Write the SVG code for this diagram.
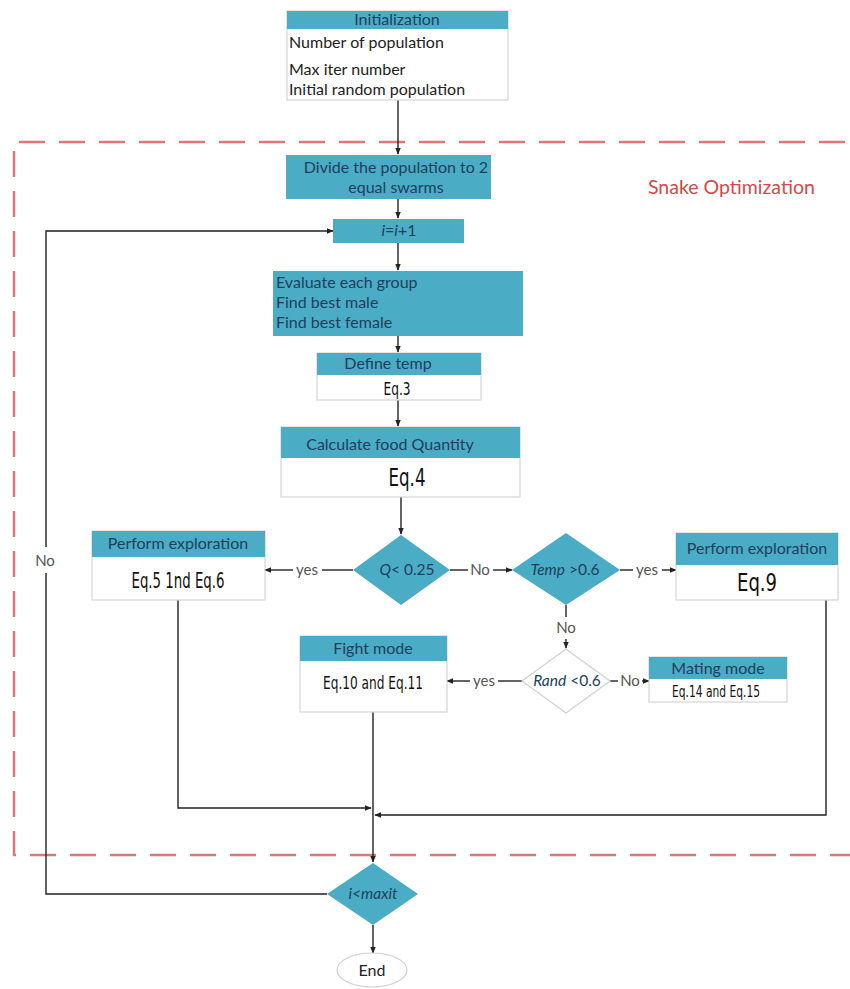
<svg xmlns="http://www.w3.org/2000/svg" width="850" height="989" viewBox="0 0 850 989">
<defs>
<marker id="ah" viewBox="0 0 10 10" refX="9" refY="5" markerWidth="5" markerHeight="5" orient="auto-start-reverse"><path d="M0,1 L10,5 L0,9 z" fill="#222"/></marker>
<style>
.hdr{fill:#4bacc6;}
.box{fill:#fff;stroke:#d4d4d4;stroke-width:1.2;}
.ht{font-family:Lato,"Open Sans",sans-serif;font-size:16px;fill:#1d3f5e;text-anchor:middle;}
.lt{font-family:Lato,"Open Sans",sans-serif;font-size:16px;fill:#1d3f5e;}
.bt{font-family:Lato,"Open Sans",sans-serif;font-size:16px;fill:#222;}
.eq{font-family:"DejaVu Sans",sans-serif;fill:#111;text-anchor:middle;}
.dt{font-family:Lato,"Open Sans",sans-serif;font-size:15.5px;fill:#1d3f5e;text-anchor:middle;}
.lb{font-family:Lato,"Open Sans",sans-serif;font-size:15px;fill:#555;text-anchor:middle;}
.c{fill:none;stroke:#222;stroke-width:1.4;}
.ca{fill:none;stroke:#222;stroke-width:1.4;marker-end:url(#ah);}
</style>
</defs>
<rect width="850" height="989" fill="#fff"/>

<g id="region">
<path d="M845,142 H14 V855 H850" fill="none" stroke="#e07777" stroke-width="2.5" stroke-dasharray="26 14"/>
<text x="648" y="194" font-family="Lato,'Open Sans',sans-serif" font-size="19.5" fill="#d24a4a">Snake Optimization</text>
</g>

<g id="connectors">
<line class="ca" x1="398" y1="100" x2="398" y2="154"/>
<line class="ca" x1="398" y1="199" x2="398" y2="218"/>
<line class="ca" x1="398" y1="243" x2="398" y2="270"/>
<line class="ca" x1="398" y1="336" x2="398" y2="352"/>
<line class="ca" x1="398" y1="400" x2="398" y2="426"/>
<line class="ca" x1="401" y1="497" x2="401" y2="534"/>
<line class="c" x1="353" y1="570" x2="322" y2="570"/>
<line class="ca" x1="293" y1="570" x2="265" y2="570"/>
<text class="lb" x="307" y="575">yes</text>
<line class="c" x1="450" y1="570" x2="468" y2="570"/>
<line class="ca" x1="493" y1="570" x2="512" y2="570"/>
<text class="lb" x="480" y="575">No</text>
<line class="c" x1="620" y1="570" x2="633" y2="570"/>
<line class="ca" x1="662" y1="570" x2="676" y2="570"/>
<text class="lb" x="647" y="575">yes</text>
<line class="c" x1="566" y1="605" x2="566" y2="617"/>
<text class="lb" x="566" y="633">No</text>
<line class="ca" x1="566" y1="639" x2="566" y2="648"/>
<line class="c" x1="522" y1="681" x2="498" y2="681"/>
<line class="ca" x1="470" y1="681" x2="447" y2="681"/>
<text class="lb" x="484" y="686">yes</text>
<line class="c" x1="610" y1="681" x2="618" y2="681"/>
<line class="ca" x1="642" y1="681" x2="649" y2="681"/>
<text class="lb" x="630" y="686">No</text>
<line class="ca" x1="373" y1="712" x2="373" y2="862"/>
<polyline class="ca" points="178,600 178,808 371,808"/>
<polyline class="ca" points="826,600 826,815 375,815"/>
<line class="ca" x1="373" y1="925" x2="373" y2="953"/>
<polyline class="c" points="327,894 46,894 46,573"/>
<polyline class="ca" points="46,547 46,231 333,231"/>
<text class="lb" x="45" y="566">No</text>
</g>

<g id="init">
<rect class="box" x="287" y="11" width="221" height="89"/>
<rect class="hdr" x="287" y="11" width="221" height="18"/>
<text class="ht" x="397" y="25">Initialization</text>
<text class="bt" x="289" y="48">Number of population</text>
<text class="bt" x="289" y="75">Max iter number</text>
<text class="bt" x="289" y="95">Initial random population</text>
</g>

<g id="divide">
<rect class="hdr" x="286" y="155" width="205" height="44"/>
<text class="ht" x="396" y="173">Divide the population to 2</text>
<text class="ht" x="396" y="193">equal swarms</text>
</g>

<g id="incr">
<rect class="hdr" x="333" y="219" width="131" height="24"/>
<text class="ht" x="399" y="236"><tspan font-style="italic">i</tspan>=<tspan font-style="italic">i</tspan>+1</text>
</g>

<g id="evaluate">
<rect class="hdr" x="273" y="271" width="250" height="65"/>
<text class="lt" x="276" y="288">Evaluate each group</text>
<text class="lt" x="276" y="308">Find best male</text>
<text class="lt" x="276" y="328">Find best female</text>
</g>

<g id="temp">
<rect class="box" x="317" y="353" width="164" height="47"/>
<rect class="hdr" x="317" y="353" width="164" height="22"/>
<text class="ht" x="388" y="369">Define temp</text>
<text class="eq" x="397" y="395" font-size="17" textLength="27" lengthAdjust="spacingAndGlyphs">Eq.3</text>
</g>

<g id="food">
<rect class="box" x="281" y="427" width="239" height="70"/>
<rect class="hdr" x="281" y="427" width="239" height="31"/>
<text class="ht" x="390" y="450">Calculate food Quantity</text>
<text class="eq" x="407" y="486" font-size="24" textLength="37" lengthAdjust="spacingAndGlyphs">Eq.4</text>
</g>

<g id="q">
<polygon points="401,535 450,570 401,605 353,570" fill="#4bacc6"/>
<text class="dt" x="407" y="575"><tspan font-style="italic">Q</tspan>&lt; 0.25</text>
</g>

<g id="explore1">
<rect class="box" x="92" y="531" width="173" height="69"/>
<rect class="hdr" x="92" y="531" width="173" height="26"/>
<text class="ht" x="178" y="549">Perform exploration</text>
<text class="eq" x="178" y="588" font-size="22" textLength="93" lengthAdjust="spacingAndGlyphs">Eq.5 1nd Eq.6</text>
</g>

<g id="tempd">
<polygon points="566,533 620,570 566,605 512,570" fill="#4bacc6"/>
<text class="dt" x="565" y="575"><tspan font-style="italic">Temp</tspan> &gt;0.6</text>
</g>

<g id="explore2">
<rect class="box" x="676" y="533" width="162" height="67"/>
<rect class="hdr" x="676" y="533" width="162" height="32"/>
<text class="ht" x="757" y="554">Perform exploration</text>
<text class="eq" x="757" y="591" font-size="24" textLength="40" lengthAdjust="spacingAndGlyphs">Eq.9</text>
</g>

<g id="rand">
<polygon points="566,649 610,681 566,713 522,681" fill="#fff" stroke="#d0d0d0" stroke-width="1.2"/>
<text class="dt" x="567" y="686" font-size="15"><tspan font-style="italic">Rand</tspan> &lt;0.6</text>
</g>

<g id="fight">
<rect class="box" x="300" y="636" width="147" height="76"/>
<rect class="hdr" x="300" y="636" width="147" height="25"/>
<text class="ht" x="373" y="654">Fight mode</text>
<text class="eq" x="373" y="689" font-size="18.5" textLength="100" lengthAdjust="spacingAndGlyphs">Eq.10 and Eq.11</text>
</g>

<g id="mating">
<rect class="box" x="649" y="657" width="138" height="45"/>
<rect class="hdr" x="649" y="657" width="138" height="22"/>
<text class="ht" x="718" y="674">Mating mode</text>
<text class="eq" x="716" y="697" font-size="16" textLength="88" lengthAdjust="spacingAndGlyphs">Eq.14 and Eq.15</text>
</g>

<g id="maxit">
<polygon points="373,863 418,894 373,925 327,894" fill="#4bacc6"/>
<text class="dt" x="373" y="899" font-style="italic">i&lt;maxit</text>
</g>

<g id="end">
<ellipse cx="372" cy="970" rx="35" ry="17" fill="#fff" stroke="#d0d0d0" stroke-width="1.2"/>
<text class="bt" x="372" y="976" text-anchor="middle" fill="#333">End</text>
</g>
</svg>
